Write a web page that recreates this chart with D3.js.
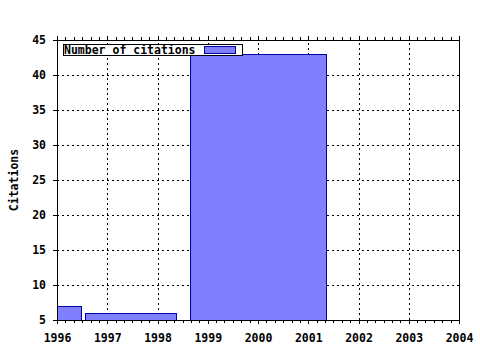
<!DOCTYPE html>
<html>
<head>
<meta charset="utf-8">
<script src="https://cdn.jsdelivr.net/npm/d3@7"></script>
<style>
  body { margin: 0; background: #fff; }
  svg text { font-family: "DejaVu Sans Mono", monospace; font-weight: bold; font-size: 11.5px; fill: #000; }
</style>
</head>
<body>
<svg id="chart" width="480" height="350"></svg>
<script>
// bars (decimal years)
const barStart = [1996.0, 1996.56, 1998.65];
const barEnd = [1996.47, 1998.36, 2001.35];
const citations = [7, 6, 43];
const xTicks = [1996, 1997, 1998, 1999, 2000, 2001, 2002, 2003, 2004];
const yTicks = [5, 10, 15, 20, 25, 30, 35, 40, 45];
const seriesName = "Number of citations";

const plotLeft = 57, plotRight = 459, plotTop = 40, plotBottom = 320;

const svg = d3.select("#chart");

const x = d3.scaleLinear().domain([1996, 2004]).range([plotLeft, plotRight]);
const y = d3.scaleLinear().domain([5, 45]).range([plotBottom, plotTop]);

// minor ticks every 2 months
const minorTicks = d3.range(0, 8 * 6 + 1).map((i) => 1996 + i / 6);

// grid
const grid = svg.append("g").attr("shape-rendering", "crispEdges")
    .style("stroke", "#000").style("stroke-dasharray", "2,3");
grid.selectAll("line.v")
    .data(xTicks.slice(1, -1))
    .enter()
    .append("line")
    .attr("x1", (d) => Math.round(x(d)) + 0.5)
    .attr("x2", (d) => Math.round(x(d)) + 0.5)
    .attr("y1", plotBottom)
    .attr("y2", plotTop);
grid.selectAll("line.h")
    .data(yTicks.slice(1, -1))
    .enter()
    .append("line")
    .attr("y1", (d) => Math.round(y(d)) + 0.5)
    .attr("y2", (d) => Math.round(y(d)) + 0.5)
    .attr("x1", plotLeft)
    .attr("x2", plotRight);

// bars
svg.append("g")
    .attr("shape-rendering", "crispEdges")
    .selectAll("rect")
    .data(citations)
    .enter()
    .append("rect")
    .attr("x", (d, i) => Math.round(x(barStart[i])) + 0.5)
    .attr("width", (d, i) => Math.round(x(barEnd[i])) - Math.round(x(barStart[i])))
    .attr("y", (d) => Math.round(y(d)) + 0.5)
    .attr("height", (d) => Math.round(y(5)) - Math.round(y(d)))
    .style("fill", "#8080ff")
    .style("stroke", "#0000a0")
    .style("stroke-width", 1);

// axes
const axisBottom = d3.axisBottom(x).tickValues(xTicks).tickFormat(d3.format("d")).tickSize(4).tickPadding(10);
const axisTop = d3.axisTop(x).tickValues(xTicks).tickFormat("").tickSize(4);
const axisLeft = d3.axisLeft(y).tickValues(yTicks).tickSize(4).tickPadding(7);
const axisRight = d3.axisRight(y).tickValues(yTicks).tickFormat("").tickSize(0);

function styleAxis(g) {
    g.attr("shape-rendering", "crispEdges");
    g.select(".domain").remove();
    g.selectAll("line").style("stroke", "#000");
    g.attr("font-family", null).attr("font-size", null);
}

svg.append("g").attr("transform", `translate(0,${plotBottom})`).call(axisBottom).call(styleAxis);
svg.append("g").attr("transform", `translate(0,${plotTop})`).call(axisTop).call(styleAxis);
svg.append("g").attr("transform", `translate(${plotLeft},0)`).call(axisLeft).call(styleAxis);
svg.append("g").attr("transform", `translate(${plotRight},0)`).call(axisRight).call(styleAxis);

// minor x ticks, bottom and top
const minor = svg.append("g").attr("shape-rendering", "crispEdges").style("stroke", "#000");
minor.selectAll("line.b")
    .data(minorTicks)
    .enter()
    .append("line")
    .attr("x1", (d) => Math.round(x(d)) + 0.5)
    .attr("x2", (d) => Math.round(x(d)) + 0.5)
    .attr("y1", plotBottom)
    .attr("y2", plotBottom + 3);
minor.selectAll("line.t")
    .data(minorTicks)
    .enter()
    .append("line")
    .attr("x1", (d) => Math.round(x(d)) + 0.5)
    .attr("x2", (d) => Math.round(x(d)) + 0.5)
    .attr("y1", plotTop)
    .attr("y2", plotTop - 3);

// frame
svg.append("rect")
    .attr("x", plotLeft + 0.5)
    .attr("y", plotTop + 0.5)
    .attr("width", plotRight - plotLeft)
    .attr("height", plotBottom - plotTop)
    .attr("shape-rendering", "crispEdges")
    .style("fill", "none")
    .style("stroke", "#000");

// y title
svg.append("text")
    .attr("transform", `translate(18,${(plotTop + plotBottom) / 2}) rotate(-90)`)
    .attr("text-anchor", "middle")
    .text("Citations");

// legend
const legend = svg.append("g").attr("shape-rendering", "crispEdges");
legend.append("rect")
    .attr("x", 63.5).attr("y", 44.5).attr("width", 179).attr("height", 11)
    .style("fill", "#fff").style("stroke", "#000");
legend.append("text")
    .attr("x", 64).attr("y", 54)
    .text(seriesName);
legend.append("rect")
    .attr("x", 204.5).attr("y", 46.5).attr("width", 31).attr("height", 7)
    .style("fill", "#8080ff").style("stroke", "#0000a0");
</script>
</body>
</html>
